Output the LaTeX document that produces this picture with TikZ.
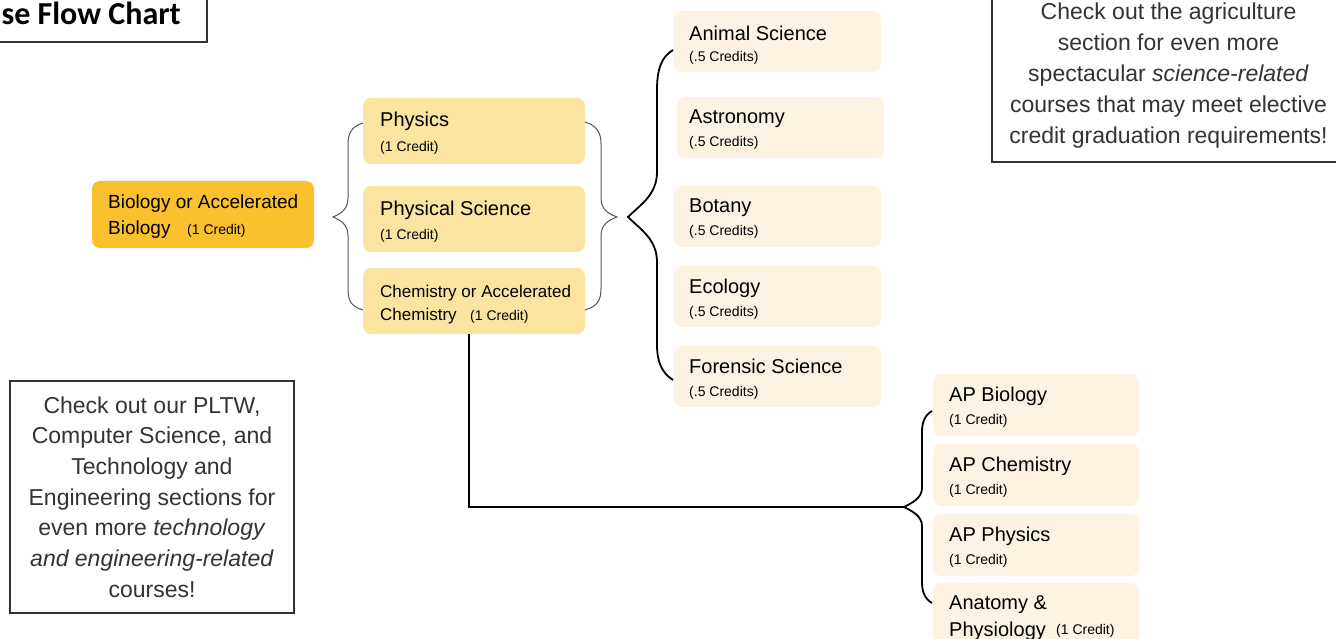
\documentclass[tikz,border=0pt]{standalone}
\usepackage{fontspec}
\setmainfont{Liberation Sans}
\newfontfamily\titlefont{Carlito}
\usetikzlibrary{positioning,calc}
\definecolor{BioGold}{RGB}{251,192,45}
\definecolor{CoreGold}{RGB}{250,228,160}
\definecolor{ElectCream}{RGB}{254,243,226}
\definecolor{NoteGray}{RGB}{51,51,51}
\definecolor{BraceGray}{RGB}{85,85,85}
\tikzset{
  cbox/.style={rounded corners=8pt,anchor=north west,inner sep=0pt,outer sep=0pt},
  biobox/.style={cbox,fill=BioGold,minimum width=222pt,minimum height=67pt},
  corebox/.style={cbox,fill=CoreGold,minimum width=222pt,minimum height=66pt},
  electbox/.style={cbox,fill=ElectCream,minimum width=207pt,minimum height=61pt},
  apbox/.style={cbox,fill=ElectCream,minimum width=206pt,minimum height=62pt},
  ctitle/.style={anchor=base west,inner sep=0pt,font=\fontsize{20}{24}\selectfont},
  ccredit/.style={anchor=base west,inner sep=0pt,font=\fontsize{14}{17}\selectfont},
  notebox/.style={draw=NoteGray,line width=2pt},
  notetext/.style={text=NoteGray,align=center,inner sep=0pt,font=\fontsize{23}{30.7}\selectfont},
  softbrace/.style={draw=BraceGray,line width=1pt},
  boldbrace/.style={draw=black,line width=1.8pt},
  link/.style={draw=black,line width=1.5pt}
}
\begin{document}
\begin{tikzpicture}[x=1pt,y=-1pt]
\path[use as bounding box,clip] (0,0) rectangle (1336,639);
\fill[white] (0,0) rectangle (1336,639);

% title
\draw[notebox] (-10,-10) rectangle (207,42);
\node[anchor=base east,inner sep=0pt,font=\titlefont\bfseries\fontsize{32}{36}\selectfont] (title) at (181,25) {se Flow Chart};

% biology
\node[biobox] (bio) at (92,181) {};
\node[anchor=base west,inner sep=0pt,font=\fontsize{19}{23}\selectfont] (bio-t) at (108,209) {Biology or Accelerated};
\node[anchor=base west,inner sep=0pt,font=\fontsize{19}{23}\selectfont] (bio-t2) at (108,235) {Biology};
\node[ccredit] (bio-c) at (187,235) {(1 Credit)};

% core courses
\foreach \n/\y/\t in {phys/98/Physics,physci/186/Physical Science}{
  \node[corebox] (\n) at (363,\y) {};
  \node[ctitle] (\n-t) at (380,\y+29) {\t};
  \node[ccredit] (\n-c) at (380,\y+54) {(1 Credit)};
}
\node[corebox] (chem) at (363,268) {};
\node[anchor=base west,inner sep=0pt,font=\fontsize{17}{20}\selectfont] (chem-t) at (380,297) {Chemistry or Accelerated};
\node[anchor=base west,inner sep=0pt,font=\fontsize{17}{20}\selectfont] (chem-t2) at (380,320) {Chemistry};
\node[ccredit] (chem-c) at (470,320) {(1 Credit)};

% electives
\node[electbox] (anim) at (674,11) {};
\node[ctitle] (anim-t) at (689,41) {Animal Science};
\node[ccredit] (anim-c) at (689,62) {(.5 Credits)};
\foreach \n/\x/\y/\t in {astro/677/97/Astronomy,bot/674/186/Botany,eco/674/266/Ecology,foren/674/346/Forensic Science}{
  \node[electbox] (\n) at (\x,\y) {};
  \node[ctitle] (\n-t) at (689,\y+27) {\t};
  \node[ccredit] (\n-c) at (689,\y+50) {(.5 Credits)};
}

% AP courses
\foreach \n/\y/\t in {apbio/374/AP Biology,apchem/444/AP Chemistry,apphys/514/AP Physics}{
  \node[apbox] (\n) at (933,\y) {};
  \node[ctitle] (\n-t) at (949,\y+27) {\t};
  \node[ccredit] (\n-c) at (949,\y+50) {(1 Credit)};
}
\node[apbox] (anat) at (933,583) {};
\node[ctitle] (anat-t) at (949,609) {Anatomy \&};
\node[ctitle] (anat-t2) at (949,636) {Physiology};
\node[ccredit] (anat-c) at (1056,634) {(1 Credit)};

% braces
\coordinate (coreL) at (333,217);
\coordinate (coreR) at (617,217);
\coordinate (electtip) at (628,217);
\coordinate (aptip) at (904,507);
\draw[softbrace] ($(phys.north west)+(0,25)$) .. controls (350,127) and (348,135) .. (348,145) -- (348,198)
  .. controls (348,210) and (340,214) .. (coreL) .. controls (340,220) and (348,224) .. (348,236) -- (348,288)
  .. controls (348,300) and (350,306) .. ($(chem.south west)+(0,-24)$);
\draw[softbrace] ($(phys.north east)+(0,24)$) .. controls (598,126) and (601,134) .. (601,144) -- (601,198)
  .. controls (601,210) and (609,214) .. (coreR) .. controls (609,220) and (601,224) .. (601,236) -- (601,288)
  .. controls (601,300) and (598,306) .. ($(chem.south east)+(0,-24)$);
\draw[boldbrace] ($(anim.south west)+(-1,-22)$) .. controls (661,57) and (657,70) .. (657,90) -- (657,172)
  .. controls (657,195) and (640,205) .. (electtip) .. controls (640,229) and (657,239) .. (657,262) -- (657,345)
  .. controls (657,362) and (662,373) .. ($(foren.north west)+(-1,34)$);
\draw[boldbrace] ($(apbio.south west)+(-1,-25)$) .. controls (925,415) and (922,422) .. (922,432) -- (922,488)
  .. controls (922,498) and (912,503) .. (aptip) .. controls (912,511) and (922,516) .. (922,526) -- (922,582)
  .. controls (922,592) and (925,599) .. ($(anat.north west)+(-1,20)$);
\draw[link] ($(chem.south)+(-5,0)$) |- (aptip);

% notes
\node[notebox,notetext,minimum width=284pt,minimum height=232pt] (pltw) at (152,497)
  {Check out our PLTW,\\Computer Science, and\\Technology and\\Engineering sections for\\even more \textit{technology}\\\textit{and engineering-related}\\courses!};
\node[notebox,notetext,font=\fontsize{23}{31}\selectfont,minimum width=353pt,minimum height=173pt] (agri) at (1168.5,75.5)
  {Check out the agriculture\\section for even more\\spectacular \textit{science-related}\\courses that may meet elective\\credit graduation requirements!};
\end{tikzpicture}
\end{document}
